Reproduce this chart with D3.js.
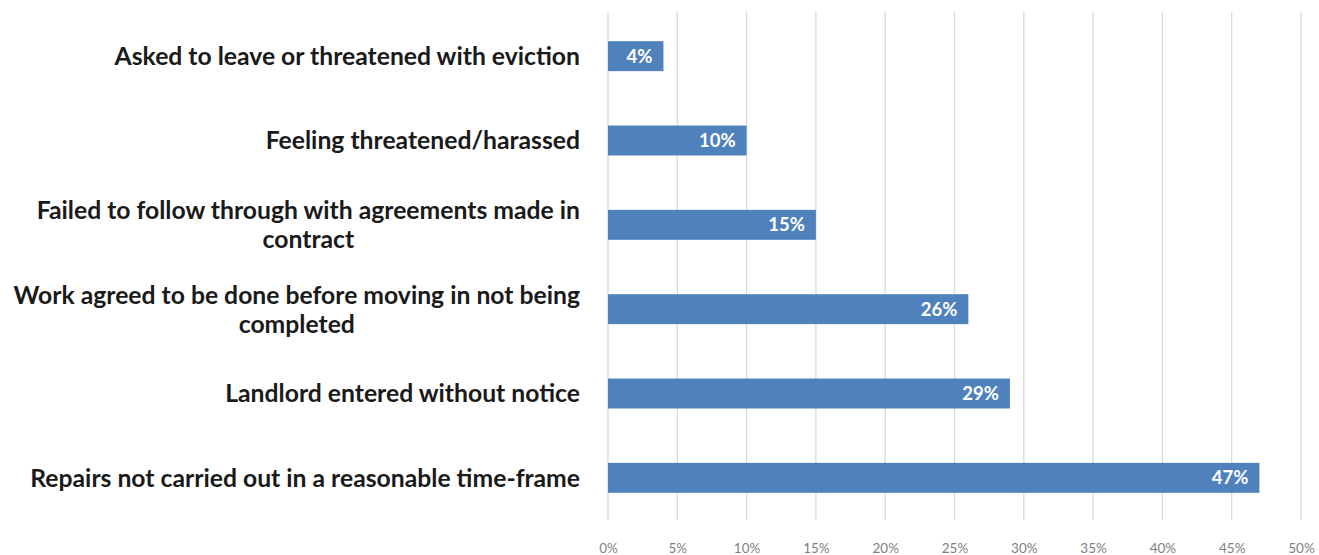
<!DOCTYPE html>
<html>
<head>
<meta charset="utf-8">
<script src="https://cdn.jsdelivr.net/npm/d3@7"></script>
<style>
  html, body { margin: 0; padding: 0; background: #fff; }
  svg { display: block; }
</style>
</head>
<body>
<svg id="chart" width="1319" height="555"></svg>
<script>
// Tenancy problems reported, share of respondents
const categories = [
  "Asked to leave or threatened with eviction",
  "Feeling threatened/harassed",
  "Failed to follow through with agreements made in contract",
  "Work agreed to be done before moving in not being completed",
  "Landlord entered without notice",
  "Repairs not carried out in a reasonable time-frame"
];
const values = [4, 10, 15, 26, 29, 47];
const tickValues = [0, 5, 10, 15, 20, 25, 30, 35, 40, 45, 50];

const svg = d3.select("#chart");
const plotLeft = 608, plotRight = 1301, plotTop = 14, plotBottom = 520;

const x = d3.scaleLinear().domain([0, 50]).range([plotLeft, plotRight]);
const y = d3.scaleBand().domain(categories).range([plotTop, plotBottom]).paddingInner(0.645).paddingOuter(0.3225);

const labelFont = "Lato, 'Open Sans', sans-serif";

// vertical gridlines
svg.append("g")
  .selectAll("line")
  .data(tickValues)
  .join("line")
  .attr("x1", d => x(d)).attr("x2", d => x(d))
  .attr("y1", plotTop - 2).attr("y2", plotBottom)
  .attr("stroke", "#d9d9d9").attr("stroke-width", 1.3);

// x axis tick labels
const axis = d3.axisBottom(x).tickValues(tickValues).tickSize(0).tickPadding(0).tickFormat(d => d + "%");
const ax = svg.append("g").attr("transform", `translate(0, ${plotBottom + 23})`).call(axis);
ax.select(".domain").remove();
ax.selectAll("text")
  .attr("font-family", labelFont)
  .attr("font-size", 13.5)
  .attr("fill", "#7f7f7f");

// bars
svg.append("g")
  .selectAll("rect")
  .data(categories)
  .join("rect")
  .attr("x", x(0))
  .attr("y", c => y(c))
  .attr("width", (c, i) => x(values[i]) - x(0))
  .attr("height", y.bandwidth())
  .attr("fill", "#4f81bd");

// value labels, inside end of each bar
svg.append("g")
  .selectAll("text")
  .data(categories)
  .join("text")
  .attr("x", (c, i) => x(values[i]) - 11)
  .attr("y", c => y(c) + y.bandwidth() / 2)
  .attr("dy", "0.36em")
  .attr("text-anchor", "end")
  .attr("font-family", labelFont)
  .attr("font-weight", 700)
  .attr("font-size", 18.5)
  .attr("fill", "#ffffff")
  .text((c, i) => values[i] + "%");

// category labels: right-aligned block, lines centred within it, wrapped
const labelRight = 580;
const maxWidth = 575;
const catG = svg.append("g");

// size the category font so the longest single line spans about 550px
const probe = catG.append("text")
  .attr("font-family", labelFont).attr("font-weight", 700).attr("font-size", 19)
  .text(categories[5]);
const fontSize = 19 * 550 / probe.node().getComputedTextLength();
probe.remove();

categories.forEach(c => {
  const words = c.split(" ");
  const lines = [];
  const t = catG.append("text")
    .attr("font-family", labelFont).attr("font-weight", 700)
    .attr("font-size", fontSize).attr("fill", "#1a1a1a");
  let cur = [];
  words.forEach(w => {
    const trial = cur.concat(w).join(" ");
    t.text(trial);
    if (t.node().getComputedTextLength() > maxWidth && cur.length) {
      lines.push(cur.join(" "));
      cur = [w];
    } else {
      cur.push(w);
    }
  });
  lines.push(cur.join(" "));
  t.text(lines[0]);
  const blockW = t.node().getComputedTextLength();
  t.text(null);
  const lineH = 29;
  const cy = y(c) + y.bandwidth() / 2;
  const cx = lines.length > 1 ? labelRight - blockW / 2 : labelRight;
  t.attr("text-anchor", lines.length > 1 ? "middle" : "end");
  lines.forEach((ln, i) => {
    t.append("tspan")
      .attr("x", cx)
      .attr("y", cy + (i - (lines.length - 1) / 2) * lineH)
      .attr("dy", "0.36em")
      .text(ln);
  });
});
</script>
</body>
</html>
